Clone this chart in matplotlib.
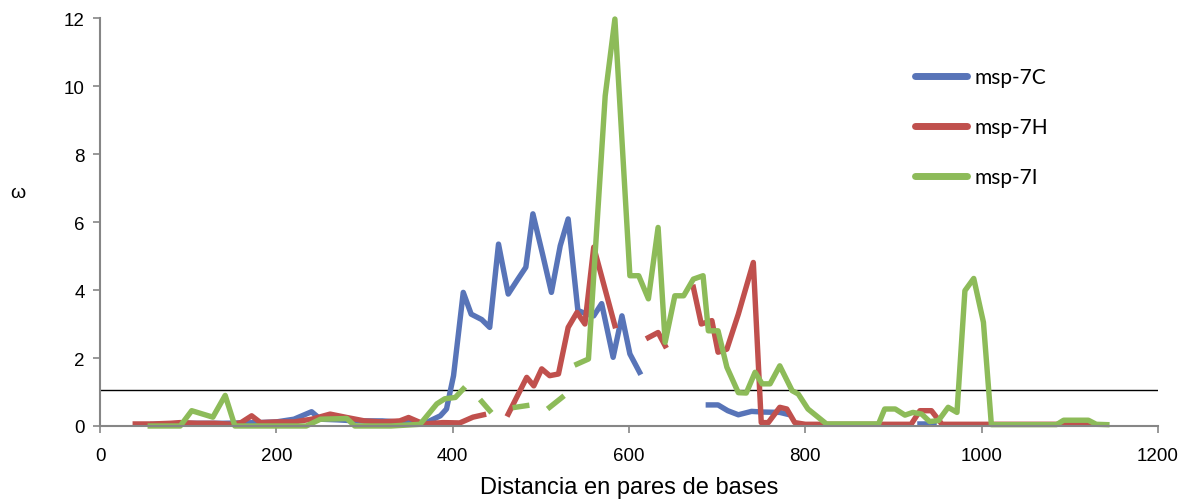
import numpy as np
import matplotlib
matplotlib.use("Agg")
import matplotlib.pyplot as plt

nan = np.nan

# msp-7C (blue)
x_c = [60, 100, 140, 180, 200, 220, 240, 250, 270, 290, 320, 350, 370, 386, 393, 401, 412, 421, 433, 442,
       452, 463, 474, 483, 491, 502, 512, 522, 531, 542, 551, 560, 569, 582, 592, 601, 612, nan,
       690, 701, 712, 724, 739, 752, 771, 779, nan, 930, 946]
y_c = [0.05, 0.08, 0.08, 0.1, 0.12, 0.2, 0.42, 0.2, 0.18, 0.15, 0.15, 0.1, 0.1, 0.3, 0.5, 1.48, 3.93, 3.29, 3.13, 2.9,
       5.35, 3.88, 4.32, 4.67, 6.24, 5.05, 3.93, 5.3, 6.09, 3.4, 3.3, 3.24, 3.6, 2.02, 3.24, 2.12, 1.58, nan,
       0.62, 0.62, 0.45, 0.33, 0.43, 0.41, 0.4, 0.35, nan, 0.06, 0.06]

# msp-7H (red)
x_h = [40, 60, 80, 91, 110, 130, 150, 160, 172, 182, 200, 220, 240, 261, 280, 300, 320, 340, 350, 367, 389, 408,
       423, 435, nan, 463, 484, 492, 501, 510, 520, 531, 541, 550, 560, 584, nan, 622, 633, 641, nan,
       673, 682, 694, 701, 711, 724, 741, 750, 758, 771, 779, 788, 800, 850, 900, 920, 930, 943, 955,
       1000, 1050, 1100, 1125]
y_h = [0.06, 0.06, 0.08, 0.1, 0.08, 0.08, 0.05, 0.1, 0.3, 0.1, 0.12, 0.12, 0.2, 0.35, 0.25, 0.15, 0.12, 0.15, 0.25,
       0.06, 0.1, 0.09, 0.26, 0.33, nan, 0.35, 1.43, 1.18, 1.68, 1.48, 1.53, 2.9, 3.34, 3.0, 5.26, 2.95, nan,
       2.6, 2.75, 2.36, nan, 4.08, 3.0, 3.1, 2.17, 2.26, 3.29, 4.81, 0.1, 0.1, 0.55, 0.5, 0.1, 0.05, 0.05, 0.05,
       0.05, 0.45, 0.45, 0.05, 0.05, 0.05, 0.05, 0.05]

# msp-7I (green)
x_i = [57, 91, 104, 128, 142, 153, 200, 234, 250, 280, 289, 330, 363, 382, 391, 403, 412, nan, 433, 442, nan,
       471, 484, nan, 510, 524, nan, 541, 554, 573, 584, 601, 611, 622, 633, 641, 652, 662, 673, 684, 690,
       701, 711, 724, 733, 743, 751, 760, 771, 785, 792, 803, 824, 883, 890, 902, 913, 922, 932, 941, 951,
       962, 972, 981, 991, 1002, 1011, 1085, 1093, 1121, 1130, 1142]
y_i = [0, 0, 0.45, 0.26, 0.9, 0, 0, 0, 0.2, 0.22, 0, 0, 0.05, 0.65, 0.8, 0.84, 1.09, nan, 0.72, 0.45, nan,
       0.55, 0.6, nan, 0.55, 0.84, nan, 1.82, 1.97, 9.71, 11.97, 4.42, 4.42, 3.74, 5.84, 2.46, 3.83, 3.83,
       4.32, 4.42, 2.8, 2.8, 1.73, 0.98, 0.97, 1.58, 1.24, 1.24, 1.77, 1.04, 0.94, 0.5, 0.06, 0.06, 0.5,
       0.5, 0.32, 0.4, 0.35, 0.13, 0.16, 0.55, 0.4, 3.98, 4.34, 3.05, 0.04, 0.04, 0.17, 0.17, 0.05, 0.04]

labels = ["msp-7C", "msp-7H", "msp-7I"]
threshold = 1.07
x_ticks = [0, 200, 400, 600, 800, 1000, 1200]
y_ticks = [0, 2, 4, 6, 8, 10, 12]

colors = ["#5874B8", "#C0504D", "#8DBB59"]

plt.rcParams['font.family'] = ['Liberation Sans', 'DejaVu Sans']

fig = plt.figure(figsize=(11.94, 5.02), dpi=100)
W, H = 1194, 502
ax = fig.add_axes([100 / W, 1 - 427 / H, (1158 - 100) / W, (427 - 19) / H])

lw = 3.9
for xs, ys, c, lab in zip([x_c, x_h, x_i], [y_c, y_h, y_i], colors, labels):
    ax.plot(xs, ys, color=c, lw=lw, label=lab, solid_joinstyle='round', clip_on=False)

ax.axhline(threshold, color='black', lw=1.0, zorder=0.5)

ax.set_xlim(0, 1200)
ax.set_ylim(0, 12)
ax.set_xticks(x_ticks)
ax.set_yticks(y_ticks)
ax.tick_params(axis='both', labelsize=13.5, color='#868686', length=5, width=1.2, direction='out')
ax.tick_params(axis='y', pad=6)
ax.tick_params(axis='x', pad=10)
for s in ['top', 'right']:
    ax.spines[s].set_visible(False)
for s in ['left', 'bottom']:
    ax.spines[s].set_color('#868686')
    ax.spines[s].set_linewidth(1.5)

ax.set_xlabel("Distancia en pares de bases", fontsize=17, labelpad=9)
fig.text(18 / W, 1 - 194 / H, "ω", fontsize=14, ha='center', va='center')

leg = ax.legend(loc='upper left', bbox_to_anchor=(915 / W, 1 - 68 / H), bbox_transform=fig.transFigure,
                frameon=False, prop={'family': 'Lato', 'size': 15}, handlelength=2.5, handletextpad=0.35,
                labelspacing=1.45, borderpad=0, borderaxespad=0)
for l in leg.get_lines():
    l.set_linewidth(5)
    l.set_solid_capstyle('round')

fig.savefig("out.png", dpi=100)
